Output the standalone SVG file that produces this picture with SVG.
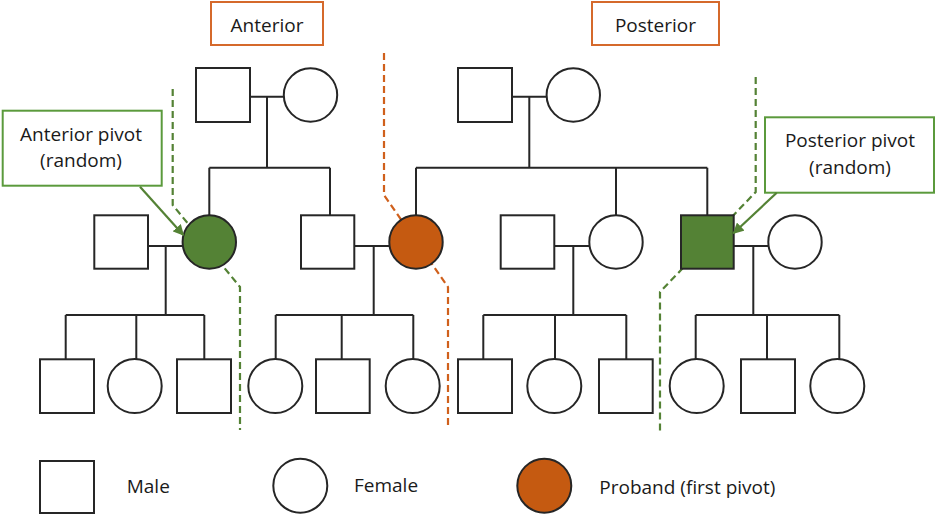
<svg xmlns="http://www.w3.org/2000/svg" width="935" height="514" viewBox="0 0 935 514">
<style>
.ln{stroke:#262626;stroke-width:2;fill:none}
.nd{stroke:#262626;stroke-width:2;fill:#fff}
.pv{stroke:#262626;stroke-width:2;fill:#548235}
.pb{stroke:#262626;stroke-width:2;fill:#C55A11}
.dg{stroke:#548235;stroke-width:2.2;fill:none;stroke-dasharray:7 4}
.do{stroke:#D0601C;stroke-width:2.2;fill:none;stroke-dasharray:7 4}
.bo{fill:#fff;stroke:#D5692B;stroke-width:2}
.bg{fill:#fff;stroke:#5B9A3C;stroke-width:2}
.ar{stroke:#548235;stroke-width:2.2;fill:none}
text{font-family:"Open Sans","Liberation Sans",sans-serif;font-size:19px;fill:#1a1a1a}
.c{text-anchor:middle}
</style>
<defs>
<marker id="ah" viewBox="0 0 10 10" refX="9" refY="5" markerWidth="5" markerHeight="5" orient="auto" markerUnits="strokeWidth">
<path d="M0,0 L10,5 L0,10 z" fill="#548235"/>
</marker>
</defs>
<rect width="935" height="514" fill="#fff"/>

<g id="cut-lines">
<path class="dg" d="M172.7,89 V205 L240,287 V430"/>
<path class="do" d="M384,53 V195 L448,287 V427"/>
<path class="dg" d="M755.7,77 V192 L660,292 V432"/>
</g>

<g id="connectors">
<path class="ln" d="M250,96.7 H284 M267,96.7 V167.7 M209.3,167.7 H330 M209.3,167.7 V215.3 M330,167.7 V215.3"/>
<path class="ln" d="M512,96.7 H546.5 M529.3,96.7 V167.7 M416,167.7 H707.3 M416,167.7 V215.3 M616,167.7 V215.3 M707.3,167.7 V215.3"/>
<path class="ln" d="M148,246 H182.7 M165.7,246 V315 M65.7,315 H204.3 M65.7,315 V359.3 M136.3,315 V359.3 M204.3,315 V359.3"/>
<path class="ln" d="M354.3,246 H389.3 M373.7,246 V315 M275.7,315 H413.3 M275.7,315 V359.3 M341.7,315 V359.3 M413.3,315 V359.3"/>
<path class="ln" d="M554.3,246 H589.3 M573.3,246 V315 M483.3,315 H626.3 M483.3,315 V359.3 M555,315 V359.3 M626.3,315 V359.3"/>
<path class="ln" d="M733.7,246 H768.3 M753.3,246 V315 M695.7,315 H839.3 M695.7,315 V359.3 M767,315 V359.3 M839.3,315 V359.3"/>
</g>

<g id="label-anterior"><rect class="bo" x="211" y="2" width="112" height="43"/><text class="c" x="267" y="32">Anterior</text></g>
<g id="label-posterior"><rect class="bo" x="592" y="2" width="127" height="43"/><text class="c" x="655.5" y="32">Posterior</text></g>

<g id="gp1-male"><rect class="nd" x="196" y="68" width="54" height="54"/></g>
<g id="gp1-female"><circle class="nd" cx="310.5" cy="95" r="26.7"/></g>
<g id="gp2-male"><rect class="nd" x="458" y="68" width="54" height="54"/></g>
<g id="gp2-female"><circle class="nd" cx="573.3" cy="95" r="26.7"/></g>

<g id="spouse1"><rect class="nd" x="94.3" y="215.3" width="53.7" height="53.4"/></g>
<g id="anterior-pivot"><circle class="pv" cx="209.3" cy="242" r="26.7"/></g>
<g id="spouse2"><rect class="nd" x="301" y="215.3" width="53.3" height="53.4"/></g>
<g id="proband"><circle class="pb" cx="416" cy="242" r="26.7"/></g>
<g id="spouse3"><rect class="nd" x="500.7" y="215.3" width="53.6" height="53.4"/></g>
<g id="sister"><circle class="nd" cx="616" cy="242" r="26.7"/></g>
<g id="posterior-pivot"><rect class="pv" x="681" y="215.3" width="52.7" height="53.4"/></g>
<g id="spouse4"><circle class="nd" cx="795" cy="242" r="26.7"/></g>

<g id="c1"><rect class="nd" x="40" y="359.3" width="54" height="53.7"/></g>
<g id="c2"><circle class="nd" cx="134.7" cy="386" r="27"/></g>
<g id="c3"><rect class="nd" x="177" y="359.3" width="54" height="53.7"/></g>
<g id="c4"><circle class="nd" cx="275.3" cy="386" r="27"/></g>
<g id="c5"><rect class="nd" x="316" y="359.3" width="53.7" height="53.7"/></g>
<g id="c6"><circle class="nd" cx="412.7" cy="386" r="27"/></g>
<g id="c7"><rect class="nd" x="458" y="359.3" width="54" height="53.7"/></g>
<g id="c8"><circle class="nd" cx="554.3" cy="386" r="27"/></g>
<g id="c9"><rect class="nd" x="599" y="359.3" width="53.7" height="53.7"/></g>
<g id="c10"><circle class="nd" cx="696.7" cy="386" r="27"/></g>
<g id="c11"><rect class="nd" x="741" y="359.3" width="54" height="53.7"/></g>
<g id="c12"><circle class="nd" cx="837.3" cy="386" r="27"/></g>

<g id="callout-anterior">
<rect class="bg" x="2.7" y="110.7" width="159" height="75"/>
<text class="c" x="81" y="140.7">Anterior pivot</text>
<text class="c" x="81" y="166.7">(random)</text>
<path class="ar" d="M140,186.7 L183.3,235" marker-end="url(#ah)"/>
</g>
<g id="callout-posterior">
<rect class="bg" x="765" y="117.3" width="169" height="75.4"/>
<text class="c" x="850" y="146.7">Posterior pivot</text>
<text class="c" x="850" y="174">(random)</text>
<path class="ar" d="M776.7,192.7 L733.5,233.3" marker-end="url(#ah)"/>
</g>

<g id="legend">
<rect class="nd" x="40" y="461" width="54" height="52"/>
<text x="126.7" y="493.3">Male</text>
<circle class="nd" cx="300.3" cy="485.7" r="27"/>
<text x="354" y="492.3">Female</text>
<circle class="pb" cx="544.3" cy="485.7" r="27"/>
<text x="599.3" y="494.3">Proband (first pivot)</text>
</g>
</svg>
